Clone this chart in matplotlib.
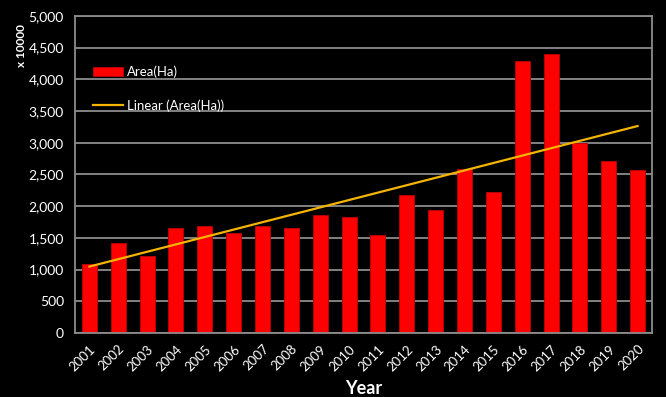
import numpy as np
import matplotlib.pyplot as plt
from matplotlib.ticker import FuncFormatter

years = [str(y) for y in range(2001, 2021)]
area_ha = [1095, 1421, 1211, 1658, 1695, 1584, 1684, 1658, 1858, 1822,
           1540, 2177, 1945, 2592, 2219, 4285, 4395, 2997, 2708, 2576]

plt.rcParams['font.family'] = ['Lato', 'DejaVu Sans']

fig = plt.figure(figsize=(6.66, 3.97), dpi=100, facecolor='black')
ax = fig.add_axes([0.1126, 0.161, 0.8664, 0.799])
ax.set_facecolor('black')

x = np.arange(len(years))
bars = ax.bar(x, area_ha, width=0.52, color='#ff0000', edgecolor='#c00000',
              linewidth=0.6, label='Area(Ha)', zorder=2)

# least squares trend over the yearly values
coef = np.polyfit(x, area_ha, 1)
trend, = ax.plot(x, np.polyval(coef, x), color='#f5b400', linewidth=1.6,
                 label='Linear (Area(Ha))', zorder=3)

ax.set_xlim(-0.5, len(years) - 0.5)
ax.set_ylim(0, 5000)
ax.set_yticks(np.arange(0, 5001, 500))
ax.yaxis.set_major_formatter(FuncFormatter(lambda v, p: f'{int(v):,}'))
ax.set_xticks(x)
ax.set_xticklabels(years, rotation=45, ha='right', rotation_mode='anchor')

ax.grid(axis='y', color='#8c8c8c', linewidth=1.3, zorder=0)
ax.tick_params(axis='both', length=0, colors='white')
ax.tick_params(axis='y', labelsize=10, pad=8)
ax.tick_params(axis='x', labelsize=9.5, pad=7)
for side in ['left', 'right', 'bottom', 'top']:
    ax.spines[side].set_color('#8c8c8c')
    ax.spines[side].set_linewidth(1.3)

ax.set_xlabel('Year', color='white', fontsize=13, fontweight='bold', labelpad=5)
fig.text(0.032, 0.885, 'x 10000', color='white', fontsize=8.5, fontweight='bold',
         rotation=90, ha='center', va='center')

ax.legend([bars, trend], ['Area(Ha)', 'Linear (Area(Ha))'],
          loc='upper left', bbox_to_anchor=(0.01, 0.88), frameon=False,
          fontsize=9.5, labelcolor='white', handlelength=2.3,
          labelspacing=1.6, borderaxespad=0.5, handletextpad=0.3)

fig.savefig('out.png', dpi=100, facecolor='black')
